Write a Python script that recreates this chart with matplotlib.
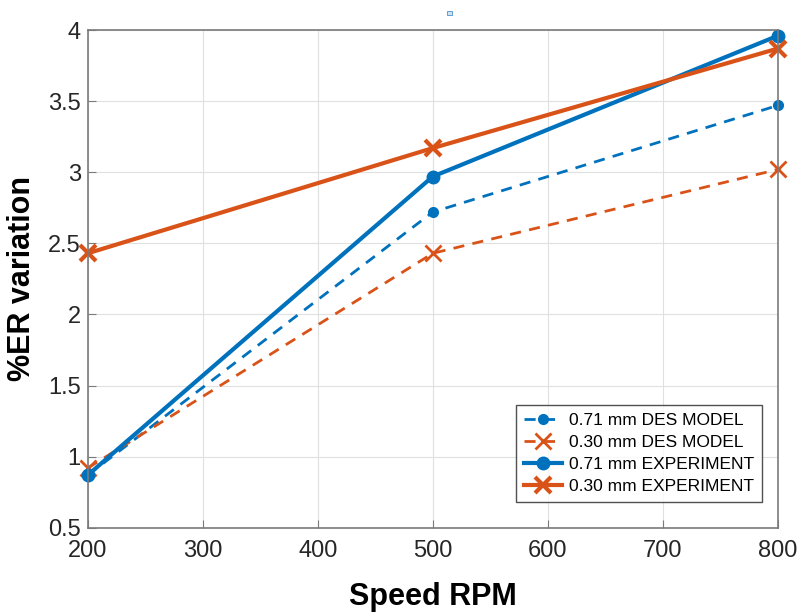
import matplotlib
matplotlib.use("Agg")
import matplotlib.pyplot as plt
from matplotlib.patches import Rectangle

plt.rcParams["font.family"] = ["Liberation Sans", "DejaVu Sans"]

speed = [200, 500, 800]
des_071 = [0.87, 2.72, 3.47]
des_030 = [0.92, 2.43, 3.02]
exp_071 = [0.87, 2.97, 3.96]
exp_030 = [2.43, 3.17, 3.87]

blue = "#0072BD"
orange = "#D95319"

fig = plt.figure(figsize=(7.97, 6.13), dpi=100)
ax = fig.add_axes([0.110, 0.139, 0.866, 0.812])

ax.plot(speed, des_071, "--o", color=blue, lw=2, ms=7, dashes=(4, 3),
        clip_on=False, label="0.71 mm DES MODEL")
ax.plot(speed, des_030, "--x", color=orange, lw=2, ms=11, mew=2, dashes=(4, 3),
        clip_on=False, label="0.30 mm DES MODEL")
ax.plot(speed, exp_071, "-o", color=blue, lw=3, ms=9,
        clip_on=False, label="0.71 mm EXPERIMENT")
ax.plot(speed, exp_030, "-x", color=orange, lw=3, ms=12, mew=3,
        clip_on=False, label="0.30 mm EXPERIMENT")

ax.set_xlim(200, 800)
ax.set_ylim(0.5, 4)
ax.set_xticks(range(200, 801, 100))
ax.set_yticks([0.5, 1, 1.5, 2, 2.5, 3, 3.5, 4])
ax.set_yticklabels(["0.5", "1", "1.5", "2", "2.5", "3", "3.5", "4"])
ax.tick_params(labelsize=17, direction="in", length=6, color="#7a7a7a",
               labelcolor="#262626")
ax.tick_params(axis="x", pad=9)
ax.tick_params(axis="y", pad=5)
ax.grid(True, color="#e0e0e0", lw=0.8)
for s in ax.spines.values():
    s.set_color("#7a7a7a")
    s.set_linewidth(1.2)

ax.set_xlabel("Speed RPM", fontsize=22, fontweight="bold", labelpad=14)
ax.set_ylabel("%ER variation", fontsize=22, fontweight="bold", labelpad=8)

leg = ax.legend(loc="lower right", bbox_to_anchor=(0.99, 0.035), fontsize=12.5,
                frameon=True, fancybox=False, edgecolor="#262626",
                handlelength=2.2, borderpad=0.45, labelspacing=0.4,
                handletextpad=0.4)
leg.get_frame().set_linewidth(1)

# small stray marker above the plot, as in the original figure
fig.add_artist(Rectangle((0.561, 0.975), 0.006, 0.007, transform=fig.transFigure,
                         facecolor="#cfe3f3", edgecolor="#4a90c8", lw=0.6))

fig.savefig("out.png", dpi=100)
